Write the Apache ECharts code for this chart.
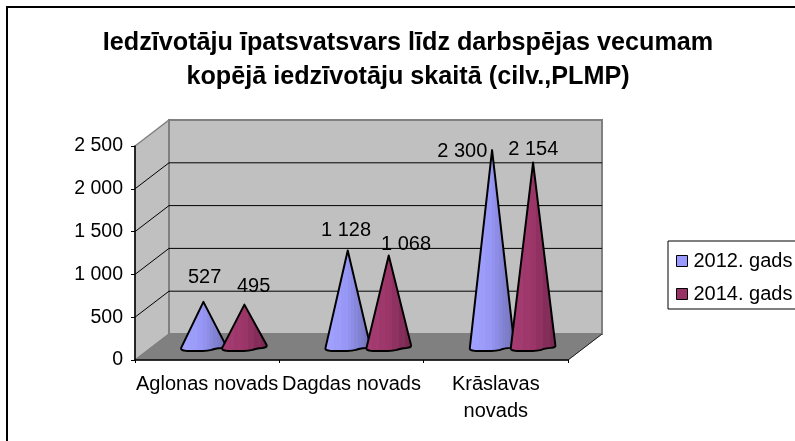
<!DOCTYPE html>
<html>
<head>
<meta charset="utf-8">
<title>Iedzīvotāju īpatsvars</title>
<script src="https://cdn.jsdelivr.net/npm/echarts@6/dist/echarts.min.js"></script>
<style>
  html, body { margin: 0; padding: 0; background: #fff; }
  #main { width: 795px; height: 441px; }
</style>
</head>
<body>
<div id="main"></div>
<script>
  var titleText = 'Iedzīvotāju īpatsvatsvars līdz darbspējas vecumam\nkopējā iedzīvotāju skaitā (cilv.,PLMP)';
  var categories = ['Aglonas novads', 'Dagdas novads', 'Krāslavas\nnovads'];
  var yTicks = [0, 500, 1000, 1500, 2000, 2500];
  var seriesNames = ['2012. gads', '2014. gads'];
  var values2012 = [527, 1128, 2300];
  var values2014 = [495, 1068, 2154];

  // 3D illusion of the old Excel chart
  var depthX = 34, depthY = 26;
  var font = 'Liberation Sans';

  // hand placed data labels in the original, [dx, dy] from cone apex
  var labelNudge2012 = [[1, -24], [-2, -20], [-30, 1]];
  var labelNudge2014 = [[9, -18], [17, -11], [0, -13]];

  function formatNum(v) {
    return String(v).replace(/\B(?=(\d{3})+$)/g, ' ');
  }

  // faint vertical stripes like the Excel cone fill
  function stripedFill(colors) {
    var stops = [], n = 14;
    for (var i = 0; i < n; i++) {
      var c = echarts.color.lerp(i / (n - 1), colors);
      var shade = echarts.color.lift(c, i % 2 ? 0.025 : -0.02);
      stops.push({ offset: i / n, color: shade });
      stops.push({ offset: (i + 1) / n, color: shade });
    }
    return new echarts.graphic.LinearGradient(0, 0, 1, 0, stops);
  }

  function renderWalls(params, api) {
    var r = params.coordSys;
    var x0 = r.x, x1 = r.x + r.width;
    var yB = r.y + r.height, yT = r.y;
    var kids = [];
    kids.push({ type: 'polygon', shape: { points: [[x0, yB], [x0 + depthX, yB - depthY], [x0 + depthX, yT - depthY], [x0, yT]] }, style: { fill: '#C0C0C0', stroke: '#808080', lineWidth: 1.5 } });
    kids.push({ type: 'rect', shape: { x: x0 + depthX, y: yT - depthY, width: r.width, height: r.height }, style: { fill: '#C0C0C0', stroke: '#808080', lineWidth: 2 } });
    kids.push({ type: 'polygon', shape: { points: [[x0, yB], [x1, yB], [x1 + depthX, yB - depthY], [x0 + depthX, yB - depthY]] }, style: { fill: '#808080', stroke: '#808080', lineWidth: 1 } });
    kids.push({ type: 'line', shape: { x1: x1, y1: yB, x2: x1 + depthX, y2: yB - depthY }, style: { stroke: '#222', lineWidth: 1 } });
    yTicks.slice(1, -1).forEach(function (t) {
      var y = api.coord([0, t])[1];
      kids.push({ type: 'polyline', shape: { points: [[x0, y], [x0 + depthX, y - depthY], [x1 + depthX, y - depthY]] }, style: { stroke: '#000', lineWidth: 1, fill: null } });
    });
    return { type: 'group', children: kids };
  }

  function coneRenderer(side, colors, nudges) {
    var fill = stripedFill(colors);
    return function (params, api) {
      var band = api.size([1, 0])[0];
      var hw = band * 0.15;
      var idx = api.value(0);
      var val = api.value(1);
      var cx = api.coord([idx, 0])[0] + depthX / 2 + side * band * 0.142;
      var yb = api.coord([idx, 0])[1] - depthY / 2;
      var yTop = api.coord([idx, val])[1] - depthY / 2;
      var xL = cx - hw, xR = cx + hw;
      // base outline is a bit lumpy in the source, low left side, high right side
      var d = 'M' + cx + ' ' + yTop +
        'L' + xR + ' ' + (yb - 2) +
        'Q' + (xR + 1) + ' ' + (yb + 0.5) + ' ' + (xR - 4) + ' ' + (yb + 1) +
        'Q' + (cx + 11) + ' ' + (yb + 1.5) + ' ' + (cx + 8) + ' ' + (yb + 3) +
        'Q' + (cx + 3) + ' ' + (yb + 4.5) + ' ' + (cx - 4) + ' ' + (yb + 4) +
        'L' + (xL + 5) + ' ' + (yb + 4) +
        'Q' + (xL - 1) + ' ' + (yb + 3.5) + ' ' + xL + ' ' + (yb + 1) + 'Z';
      var n = nudges[params.dataIndex];
      return {
        type: 'group',
        children: [{
          type: 'path',
          shape: { pathData: d, layout: 'cover', x: xL - 1, y: yTop, width: hw * 2 + 1.5, height: yb + 4 - yTop },
          style: { fill: fill, stroke: '#000', lineWidth: 2, lineJoin: 'round' }
        }, {
          type: 'text',
          x: cx + n[0],
          y: yTop + n[1],
          style: {
            text: formatNum(val),
            font: '20px "' + font + '"',
            fill: '#000',
            align: 'center',
            verticalAlign: 'middle'
          }
        }]
      };
    };
  }

  function pairs(arr) {
    return arr.map(function (v, i) { return [i, v]; });
  }

  var myChart = echarts.init(document.getElementById('main'));
  myChart.setOption({
    animation: false,
    backgroundColor: '#fff',
    textStyle: { fontFamily: font },
    title: {
      text: titleText,
      left: 403,
      top: 21,
      textAlign: 'center',
      textStyle: { fontFamily: font, fontSize: 25.2, fontWeight: 'bold', color: '#000', lineHeight: 34 }
    },
    legend: {
      data: seriesNames,
      orient: 'vertical',
      left: 668,
      top: 241,
      padding: [10, 12, 5, 8],
      itemWidth: 11,
      itemHeight: 11,
      itemGap: 13,
      icon: 'rect',
      borderColor: '#000',
      borderWidth: 1,
      itemStyle: { borderColor: '#000', borderWidth: 1 },
      textStyle: { fontFamily: font, fontSize: 20, color: '#000', padding: [0, 0, 0, 1] }
    },
    graphic: [{
      type: 'rect',
      shape: { x: 7, y: 7, width: 810, height: 450 },
      style: { fill: 'none', stroke: '#000', lineWidth: 2 },
      silent: true
    }],
    grid: { left: 135, top: 146, width: 433, height: 214 },
    xAxis: {
      type: 'category',
      data: categories,
      z: 5,
      axisLine: { lineStyle: { color: '#000', width: 1.5 } },
      axisTick: { show: true, alignWithLabel: false, length: 3, lineStyle: { color: '#000' } },
      axisLabel: { interval: 0, color: '#000', fontFamily: font, fontSize: 20, lineHeight: 27, margin: 11, hideOverlap: false }
    },
    yAxis: {
      type: 'value',
      min: yTicks[0],
      max: yTicks[yTicks.length - 1],
      interval: yTicks[1] - yTicks[0],
      z: 5,
      splitLine: { show: false },
      axisLine: { show: true, lineStyle: { color: '#000', width: 1.5 } },
      axisTick: { show: true, length: 4, lineStyle: { color: '#000' } },
      axisLabel: { color: '#000', fontFamily: font, fontSize: 19.5, margin: 12, formatter: formatNum }
    },
    series: [{
      name: 'walls',
      type: 'custom',
      silent: true,
      clip: false,
      z: 1,
      data: [[0, 0]],
      renderItem: renderWalls
    }, {
      name: seriesNames[0],
      type: 'custom',
      clip: false,
      z: 2,
      itemStyle: { color: '#9999FF' },
      data: pairs(values2012),
      renderItem: coneRenderer(-1, ['#A0A0FF', '#9494F2', '#6E6EB4'], labelNudge2012)
    }, {
      name: seriesNames[1],
      type: 'custom',
      clip: false,
      z: 3,
      itemStyle: { color: '#993366' },
      data: pairs(values2014),
      renderItem: coneRenderer(1, ['#A33A70', '#993366', '#74264E'], labelNudge2014)
    }]
  });
</script>
</body>
</html>
